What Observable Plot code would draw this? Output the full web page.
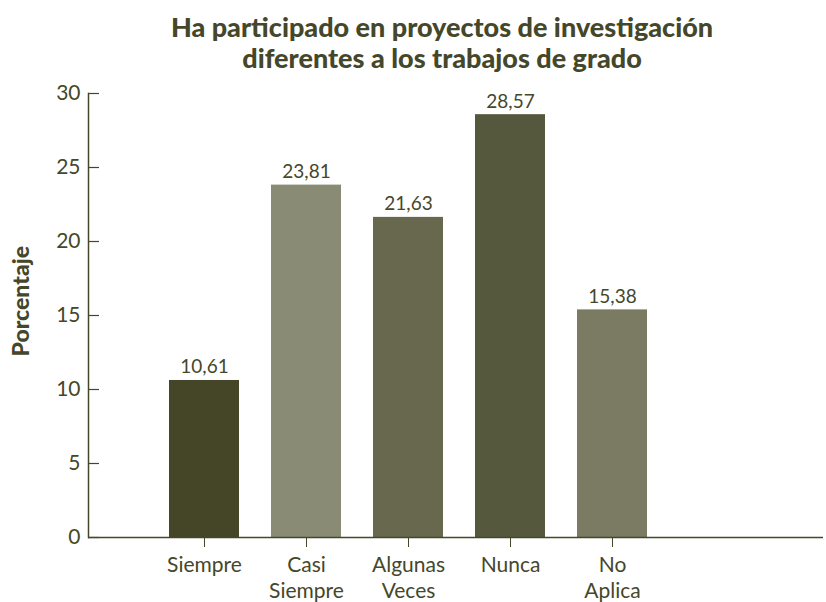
<!DOCTYPE html>
<html><head><meta charset="utf-8">
<script src="https://cdn.jsdelivr.net/npm/d3@7"></script>
<script src="https://cdn.jsdelivr.net/npm/@observablehq/plot@0.6"></script>
<style>
body{margin:0;background:#fff;}
#title{width:826px;height:80px;box-sizing:border-box;padding-top:11px;padding-left:58px;text-align:center;font:900 27px/31px Lato,sans-serif;color:#45472a;}
</style></head><body>
<div id="title">Ha participado en proyectos de investigación<br>diferentes a los trabajos de grado</div>
<div id="chart"></div>
<script>
const categories = ["Siempre", "Casi Siempre", "Algunas Veces", "Nunca", "No Aplica"];
const tickLabels = ["Siempre", "Casi\nSiempre", "Algunas\nVeces", "Nunca", "No\nAplica"];
const values = [10.61, 23.81, 21.63, 28.57, 15.38];
const barColors = ["#444627", "#8a8b74", "#67684d", "#56583d", "#7a7b62"];
const yTicks = [0, 5, 10, 15, 20, 25, 30];
const yLabel = "Porcentaje";

const ink = "#45472a";
const data = categories.map((c, i) => ({category: c, value: values[i]}));
const labelOf = new Map(categories.map((c, i) => [c, tickLabels[i]]));
const W = 826, H = 522, mL = 88, mR = 3, mT = 13, mB = 65;

const chart = Plot.plot({
  width: W, height: H,
  marginTop: mT, marginBottom: mB, marginLeft: mL, marginRight: mR,
  style: {fontFamily: "Lato, sans-serif", color: ink, background: "#fff"},
  x: {domain: categories, range: [151.75, 664.25], paddingInner: 0.31, paddingOuter: 0.155, axis: null},
  y: {domain: [0, 30], axis: null},
  color: {domain: categories, range: barColors},
  marks: [
    Plot.barY(data, {x: "category", y: "value", fill: "category"}),
    Plot.ruleY([0], {stroke: ink, strokeWidth: 1.5}),
    Plot.frame({anchor: "left", stroke: ink, strokeWidth: 1.5}),
    Plot.axisY(yTicks, {label: null, tickSize: 0, tickPadding: 8, fontSize: 21, fill: ink, tickFormat: d => String(d)}),
    Plot.tickY(yTicks, {y: d => d, stroke: ink, strokeWidth: 1.2, insetRight: W - mL - mR - 11}),
    Plot.axisX({label: null, tickSize: 10, tickPadding: 7, fontSize: 21, lineHeight: 1.2, fill: ink, stroke: ink, tickFormat: d => labelOf.get(d)}),
    Plot.text(data, {x: "category", y: "value", text: d => d.value.toFixed(2).replace(".", ","), dy: -7, lineAnchor: "bottom", fontSize: 19, fill: ink}),
    Plot.text([yLabel], {frameAnchor: "left", rotate: -90, dx: -67, dy: 41, fontSize: 23, fontWeight: 900, fill: ink})
  ]
});
document.getElementById("chart").appendChild(chart);
</script>
</body></html>
